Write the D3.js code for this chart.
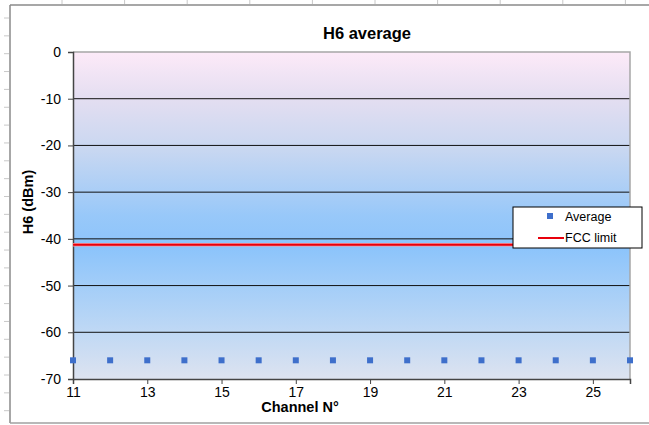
<!DOCTYPE html>
<html>
<head>
<meta charset="utf-8">
<script src="https://cdn.jsdelivr.net/npm/d3@7"></script>
<style>
  body { margin: 0; background: #fff; }
  svg { display: block; }
  svg text { font-family: "Liberation Sans", Arial, sans-serif; }
</style>
</head>
<body>
<div id="chart"></div>
<script>
// data
const channels = [11, 12, 13, 14, 15, 16, 17, 18, 19, 20, 21, 22, 23, 24, 25, 26];
const averageValues = [-66, -66, -66, -66, -66, -66, -66, -66, -66, -66, -66, -66, -66, -66, -66, -66];
const fccLimit = -41.25;
const xTickLabels = [11, 13, 15, 17, 19, 21, 23, 25];
const yTickLabels = [0, -10, -20, -30, -40, -50, -60, -70];

const W = 649, H = 425;
const plot = { left: 73, top: 52, right: 630, bottom: 379 };

const svg = d3.select("#chart").append("svg")
  .attr("width", W).attr("height", H);

// spreadsheet ruler bits behind the chart
const rul = svg.append("g").attr("stroke", "#c8c8c8").attr("stroke-width", 1);
d3.range(62, W, 62.6).forEach(x => {
  rul.append("line").attr("x1", x).attr("x2", x).attr("y1", 0).attr("y2", 4);
});
d3.range(18, H, 17.85).forEach(y => {
  rul.append("line").attr("x1", 4).attr("x2", 9).attr("y1", y).attr("y2", y);
});

// chart area frame
svg.append("line").attr("x1", 10).attr("x2", W).attr("y1", 5).attr("y2", 5)
  .attr("stroke", "#8a8a8a").attr("stroke-width", 1.5);
svg.append("line").attr("x1", 10).attr("x2", 10).attr("y1", 5).attr("y2", 423)
  .attr("stroke", "#8a8a8a").attr("stroke-width", 1.5);
svg.append("line").attr("x1", 10).attr("x2", W).attr("y1", 423).attr("y2", 423)
  .attr("stroke", "#a0a0a0").attr("stroke-width", 1.5);

const x = d3.scaleLinear().domain([11, 26]).range([plot.left, plot.right]);
const y = d3.scaleLinear().domain([-70, 0]).range([plot.bottom, plot.top]);

// plot background gradient
const defs = svg.append("defs");
const grad = defs.append("linearGradient").attr("id", "bg")
  .attr("x1", 0).attr("x2", 0).attr("y1", 0).attr("y2", 1);
[
  [0, "#fdeaf8"], [0.14, "#e4def1"], [0.3, "#c8d7f1"],
  [0.5, "#98c8f9"], [0.6, "#8cc4fb"], [0.8, "#b4d4f6"], [1, "#dde3f0"]
].forEach(([o, c]) => grad.append("stop").attr("offset", o).attr("stop-color", c));

svg.append("rect")
  .attr("x", plot.left).attr("y", plot.top)
  .attr("width", plot.right - plot.left).attr("height", plot.bottom - plot.top)
  .attr("fill", "url(#bg)");

// gridlines
svg.append("g").selectAll("line")
  .data(yTickLabels.filter(v => v !== 0 && v !== -70))
  .join("line")
  .attr("x1", plot.left).attr("x2", plot.right)
  .attr("y1", d => y(d)).attr("y2", d => y(d))
  .attr("stroke", "#111").attr("stroke-width", 1);

// top and right plot border
svg.append("path")
  .attr("d", `M${plot.left},${plot.top}H${plot.right}V${plot.bottom}`)
  .attr("fill", "none").attr("stroke", "#a6a6a6").attr("stroke-width", 1.5);

// axes
const yAxis = svg.append("g")
  .attr("transform", `translate(${plot.left},0)`)
  .call(d3.axisLeft(y).tickValues(yTickLabels).tickFormat(d => String(d))
    .tickSize(5).tickPadding(7));
const xAxis = svg.append("g")
  .attr("transform", `translate(0,${plot.bottom})`)
  .call(d3.axisBottom(x).tickValues(xTickLabels).tickFormat(d => String(d))
    .tickSize(5).tickPadding(3));

[yAxis, xAxis].forEach(a => {
  a.attr("font-family", "Liberation Sans, Arial, sans-serif").attr("font-size", 14);
  a.select(".domain").attr("stroke", "#444").attr("stroke-width", 1.5);
  a.selectAll(".tick line").attr("stroke", "#444");
  a.selectAll(".tick text").attr("fill", "#000");
});

// FCC limit line
const line = d3.line().x(d => x(d)).y(() => y(fccLimit));
svg.append("path").datum([11, 26]).attr("d", line)
  .attr("stroke", "#f59aa0").attr("stroke-width", 3.5).attr("fill", "none");
svg.append("path").datum([11, 26]).attr("d", line)
  .attr("stroke", "#e8000c").attr("stroke-width", 2).attr("fill", "none");

// average markers
svg.append("g").selectAll("rect")
  .data(channels.map((c, i) => ({ c, v: averageValues[i] })))
  .join("rect")
  .attr("x", d => x(d.c) - 3).attr("y", d => y(d.v) - 3)
  .attr("width", 6).attr("height", 6)
  .attr("fill", "#3e6fcb");

// title & axis labels
svg.append("text")
  .attr("x", 367).attr("y", 39)
  .attr("text-anchor", "middle")
  .style("font-size", "16.5px").style("font-weight", "bold")
  .text("H6 average");

svg.append("text")
  .attr("transform", "translate(33,202) rotate(-90)")
  .attr("text-anchor", "middle")
  .style("font-size", "14.5px").style("font-weight", "bold")
  .text("H6 (dBm)");

svg.append("text")
  .attr("x", 300).attr("y", 412)
  .attr("text-anchor", "middle")
  .style("font-size", "14.5px").style("font-weight", "bold")
  .text("Channel N°");

// legend
const lg = svg.append("g").attr("transform", "translate(513,207)");
lg.append("rect").attr("width", 129).attr("height", 41)
  .attr("fill", "#fff").attr("stroke", "#000").attr("stroke-width", 1);
lg.append("rect").attr("x", 34).attr("y", 6).attr("width", 6).attr("height", 6)
  .attr("fill", "#3e6fcb");
lg.append("text").attr("x", 52).attr("y", 14)
  .style("font-size", "12.5px").text("Average");
lg.append("line").attr("x1", 25).attr("x2", 51).attr("y1", 31).attr("y2", 31)
  .attr("stroke", "#e8000c").attr("stroke-width", 2);
lg.append("text").attr("x", 52).attr("y", 35)
  .style("font-size", "12.5px").text("FCC limit");
</script>
</body>
</html>
